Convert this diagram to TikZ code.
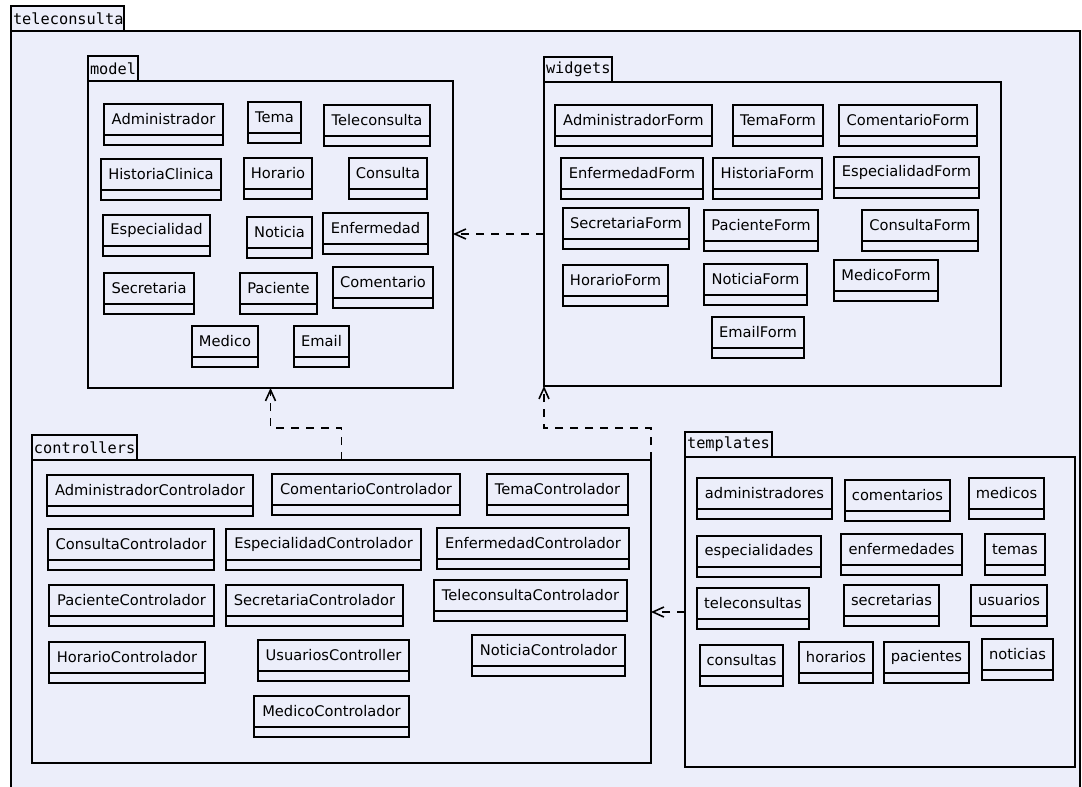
\documentclass[tikz,border=0pt]{standalone}
\usepackage{fontspec}
\setmainfont{DejaVu Sans}
\setmonofont{DejaVu Sans Mono}
\usetikzlibrary{arrows.meta,positioning}
\definecolor{pkgfill}{RGB}{236,238,250}

\newcommand{\umlsize}{\fontsize{14.67pt}{17pt}\selectfont}
\newcommand{\tabsize}{\fontsize{15.3pt}{18pt}\selectfont}
% class box: name, left, top, right, label
\newcommand{\klass}[5]{%
  \node[klassname, anchor=north west, minimum width={#4-#2}] (#1) at (#2,#3) {#5};
  \draw[klassline] (#1.south west) rectangle ([yshift=-10pt]#1.south east);
}
% package: name, left, top, right, bottom, tab width, label
\newcommand{\pkg}[7]{%
  \node[pkgframe, anchor=north west, minimum width={#4-#2}, minimum height={#5-#3}] (#1) at (#2,#3) {};
  \node[pkgtab, anchor=south west, minimum width=#6,
        path picture={\node[tablabel] at (path picture bounding box.west) {#7};}]
        (#1tab) at (#1.north west) {};
}

\begin{document}
\begin{tikzpicture}[x=1pt, y=-1pt,
            >={Straight Barb[length=11pt,width=10pt]},
            pkgframe/.style={draw, fill=pkgfill, line width=1.6pt, inner sep=0pt, outer sep=0pt},
            pkgtab/.style={draw, fill=pkgfill, line width=1.6pt, minimum height=25pt, inner sep=0pt, outer sep=0pt},
            tablabel/.style={anchor=west, inner sep=2pt, font=\ttfamily\tabsize},
            klassname/.style={draw, fill=pkgfill, line width=1.8pt, minimum height=31pt, inner sep=2pt, outer sep=0pt, font=\umlsize},
            klassline/.style={draw, fill=pkgfill, line width=1.8pt},
            dep/.style={->, dash pattern=on 8pt off 7pt, line width=1.6pt}
        ]
            \clip (0,0) rectangle (1082,787);
            \fill[white] (0,0) rectangle (1082,787);
            % packages
            \pkg{teleconsulta}{11}{31}{1080}{800}{113}{teleconsulta}
            \pkg{model}{88}{81}{453}{388}{50}{model}
            \pkg{widgets}{544}{82}{1001}{386}{68}{widgets}
            \pkg{controllers}{32}{460}{651}{763}{105}{controllers}
            \pkg{templates}{685}{457}{1075}{767}{87}{templates}
            % model classes
            \klass{mAdministrador}{104}{104}{223}{Administrador}
            \klass{mTema}{248}{102}{301}{Tema}
            \klass{mTeleconsulta}{324}{105}{430}{Teleconsulta}
            \klass{mHistoria}{101}{159}{221}{HistoriaClinica}
            \klass{mHorario}{244}{158}{312}{Horario}
            \klass{mConsulta}{349}{158}{427}{Consulta}
            \klass{mEspecialidad}{103}{215}{210}{Especialidad}
            \klass{mNoticia}{247}{217}{312}{Noticia}
            \klass{mEnfermedad}{323}{213}{428}{Enfermedad}
            \klass{mSecretaria}{104}{273}{194}{Secretaria}
            \klass{mPaciente}{240}{273}{317}{Paciente}
            \klass{mComentario}{333}{267}{433}{Comentario}
            \klass{mMedico}{192}{326}{258}{Medico}
            \klass{mEmail}{294}{326}{349}{Email}
            % widget classes
            \klass{wAdministrador}{555}{105}{712}{AdministradorForm}
            \klass{wTema}{733}{105}{823}{TemaForm}
            \klass{wComentario}{839}{105}{977}{ComentarioForm}
            \klass{wEnfermedad}{561}{158}{703}{EnfermedadForm}
            \klass{wHistoria}{713}{158}{822}{HistoriaForm}
            \klass{wEspecialidad}{834}{157}{979}{EspecialidadForm}
            \klass{wSecretaria}{563}{208}{689}{SecretariaForm}
            \klass{wPaciente}{704}{210}{818}{PacienteForm}
            \klass{wConsulta}{862}{210}{978}{ConsultaForm}
            \klass{wHorario}{563}{265}{668}{HorarioForm}
            \klass{wNoticia}{704}{264}{807}{NoticiaForm}
            \klass{wMedico}{834}{260}{938}{MedicoForm}
            \klass{wEmail}{712}{317}{804}{EmailForm}
            % controller classes
            \klass{cAdministrador}{47}{475}{253}{AdministradorControlador}
            \klass{cComentario}{272}{474}{460}{ComentarioControlador}
            \klass{cTema}{487}{474}{628}{TemaControlador}
            \klass{cConsulta}{48}{529}{214}{ConsultaControlador}
            \klass{cEspecialidad}{226}{529}{421}{EspecialidadControlador}
            \klass{cEnfermedad}{437}{528}{629}{EnfermedadControlador}
            \klass{cPaciente}{49}{585}{214}{PacienteControlador}
            \klass{cSecretaria}{226}{585}{403}{SecretariaControlador}
            \klass{cTeleconsulta}{434}{580}{627}{TeleconsultaControlador}
            \klass{cHorario}{49}{642}{205}{HorarioControlador}
            \klass{cUsuarios}{258}{640}{409}{UsuariosController}
            \klass{cNoticia}{472}{635}{625}{NoticiaControlador}
            \klass{cMedico}{254}{696}{409}{MedicoControlador}
            % templates
            \klass{tAdministradores}{697}{478}{832}{administradores}
            \klass{tComentarios}{845}{480}{950}{comentarios}
            \klass{tMedicos}{969}{478}{1044}{medicos}
            \klass{tEspecialidades}{697}{536}{821}{especialidades}
            \klass{tEnfermedades}{841}{534}{962}{enfermedades}
            \klass{tTemas}{985}{534}{1045}{temas}
            \klass{tTeleconsultas}{697}{588}{809}{teleconsultas}
            \klass{tSecretarias}{844}{585}{939}{secretarias}
            \klass{tUsuarios}{971}{585}{1047}{usuarios}
            \klass{tConsultas}{700}{645}{783}{consultas}
            \klass{tHorarios}{799}{642}{873}{horarios}
            \klass{tPacientes}{884}{642}{969}{pacientes}
            \klass{tNoticias}{982}{639}{1053}{noticias}
            % dependencies
            \draw[dep] (widgets.west) -- (widgets.west -| model.east);
            \draw[dep] (controllers.north) -- ++(0,-32) -| (model.south);
            \draw[dep] (controllers.north east) -- ++(0,-32) -| (widgets.south west);
            \draw[dep] (templates.west) -- (templates.west -| controllers.east);
        \end{tikzpicture}
\end{document}
